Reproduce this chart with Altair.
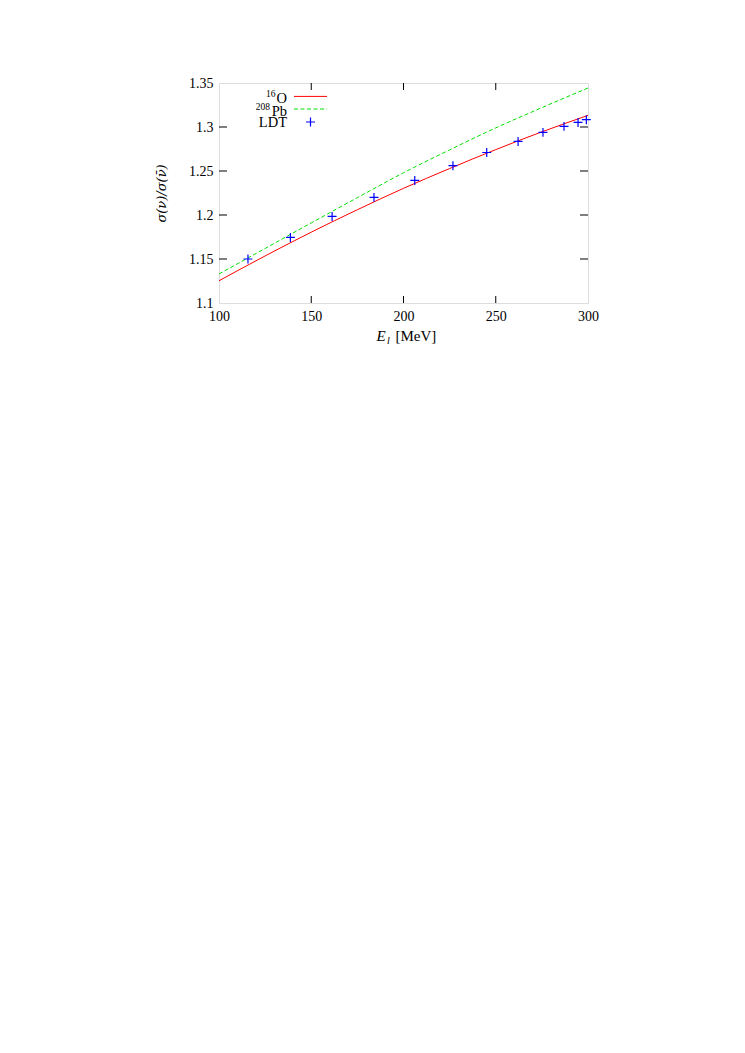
import altair as alt
import pandas as pd

# ---- data ----
energy = [100, 125, 150, 175, 200, 225, 250, 275, 300]
ratio_O16 = [1.1253, 1.1535, 1.1805, 1.2060, 1.2303, 1.2528, 1.2743, 1.2945, 1.3132]
ratio_Pb208 = [1.133, 1.162, 1.191, 1.2197, 1.248, 1.274, 1.299, 1.322, 1.3443]

ldt_energy = [115.7, 138.7, 161.3, 184.0, 206.1, 226.8, 245.1, 262.1, 275.6, 287.0, 294.6, 299.1]
ldt_ratio = [1.150, 1.1745, 1.1984, 1.220, 1.2393, 1.256, 1.271, 1.2836, 1.2939, 1.3007, 1.3052, 1.3083]

x_tick_values = [100, 150, 200, 250, 300]
y_tick_values = [1.1, 1.15, 1.2, 1.25, 1.3, 1.35]
x_inner_ticks = [150, 200, 250]
y_inner_ticks = [1.15, 1.2, 1.25, 1.3]

legend_base = ["O", "Pb", "LDT"]
legend_sup = ["16", "208", ""]

FONT = "Liberation Serif"
W, H = 369, 220
RED = "#ff0000"
GREEN = "#00e000"
BLUE = "#0000ff"
PLUS = "M-1,0H1M0,-1V1"

xs = alt.Scale(domain=[100, 300], nice=False, zero=False)
ys = alt.Scale(domain=[1.1, 1.35], nice=False, zero=False)

df_O = pd.DataFrame({"E": energy, "r": ratio_O16})
df_Pb = pd.DataFrame({"E": energy, "r": ratio_Pb208})
df_ldt = pd.DataFrame({"E": ldt_energy, "r": ldt_ratio})
df_xt = pd.DataFrame({"v": x_inner_ticks})
df_yt = pd.DataFrame({"v": y_inner_ticks})

x_axis = alt.Axis(values=x_tick_values, ticks=False, domain=False, grid=False,
                  labelFont=FONT, labelFontSize=14, labelColor="black",
                  labelPadding=6, title=None, labelFlush=False)
y_axis = alt.Axis(values=y_tick_values, ticks=False, domain=False, grid=False,
                  labelFont=FONT, labelFontSize=14, labelColor="black",
                  labelPadding=6, format=".2~f", labelFlush=False,
                  title="σ(ν)/σ(ν̄)", titleFont="DejaVu Serif", titleFontSize=13,
                  titleFontStyle="italic", titleFontWeight="normal",
                  titleColor="black", titleX=-58, titleY=H / 2,
                  titleAngle=-90, titleAlign="center", titleBaseline="middle")

line_O = alt.Chart(df_O).mark_line(color=RED, strokeWidth=1, interpolate="monotone").encode(
    x=alt.X("E:Q", scale=xs, axis=x_axis),
    y=alt.Y("r:Q", scale=ys, axis=y_axis),
)
line_Pb = alt.Chart(df_Pb).mark_line(color=GREEN, strokeWidth=1, strokeDash=[4, 2.5],
                                     interpolate="monotone").encode(
    x=alt.X("E:Q", scale=xs), y=alt.Y("r:Q", scale=ys))
pts = alt.Chart(df_ldt).mark_point(shape=PLUS, size=80, color=BLUE, filled=False,
                                   strokeWidth=1.2, opacity=1).encode(
    x=alt.X("E:Q", scale=xs), y=alt.Y("r:Q", scale=ys))

# inward mirrored ticks
tick_b = alt.Chart(df_xt).mark_rule(color="black", strokeWidth=1).encode(
    x=alt.X("v:Q", scale=xs), y=alt.value(H), y2=alt.value(H - 7))
tick_t = alt.Chart(df_xt).mark_rule(color="black", strokeWidth=1).encode(
    x=alt.X("v:Q", scale=xs), y=alt.value(0), y2=alt.value(7))
tick_l = alt.Chart(df_yt).mark_rule(color="black", strokeWidth=1).encode(
    y=alt.Y("v:Q", scale=ys), x=alt.value(0), x2=alt.value(8))
tick_r = alt.Chart(df_yt).mark_rule(color="black", strokeWidth=1).encode(
    y=alt.Y("v:Q", scale=ys), x=alt.value(W), x2=alt.value(W - 8))

# x-axis title built from pieces (italic E with subscript l)
xt_E = alt.Chart(pd.DataFrame({"t": ["E"]})).mark_text(
    font=FONT, fontSize=15, fontStyle="italic", align="left",
    baseline="alphabetic", color="black").encode(
    text="t:N", x=alt.value(157.5), y=alt.value(258))
xt_l = alt.Chart(pd.DataFrame({"t": ["l"]})).mark_text(
    font=FONT, fontSize=10, fontStyle="italic", align="left",
    baseline="alphabetic", color="black").encode(
    text="t:N", x=alt.value(168), y=alt.value(261))
xt_M = alt.Chart(pd.DataFrame({"t": ["[MeV]"]})).mark_text(
    font=FONT, fontSize=15, align="left", baseline="alphabetic", color="black").encode(
    text="t:N", x=alt.value(176.5), y=alt.value(258))

# legend (gnuplot style: right-aligned text, then sample)
leg_layers = []
base_y = [20, 33, 44]
sup_y = [13.5, 26.5, 0]
sup_x = [56.5, 51, 0]
sample_y = [13.4, 26, 39]
for i in range(3):
    leg_layers.append(
        alt.Chart(pd.DataFrame({"t": [legend_base[i]]})).mark_text(
            font=FONT, fontSize=14.5, align="right", baseline="alphabetic", color="black"
        ).encode(text="t:N", x=alt.value(68), y=alt.value(base_y[i])))
    if legend_sup[i]:
        leg_layers.append(
            alt.Chart(pd.DataFrame({"t": [legend_sup[i]]})).mark_text(
                font=FONT, fontSize=9.5, align="right", baseline="alphabetic", color="black"
            ).encode(text="t:N", x=alt.value(sup_x[i]), y=alt.value(sup_y[i])))

leg_O = alt.Chart(pd.DataFrame({"s": ["O"]})).mark_rule(color=RED, strokeWidth=1).encode(
    x=alt.value(75), x2=alt.value(108), y=alt.value(sample_y[0]))
leg_Pb = alt.Chart(pd.DataFrame({"s": ["Pb"]})).mark_rule(
    color=GREEN, strokeWidth=1, strokeDash=[4, 2.5]).encode(
    x=alt.value(75), x2=alt.value(108), y=alt.value(sample_y[1]))
leg_L = alt.Chart(pd.DataFrame({"s": ["LDT"]})).mark_point(
    shape=PLUS, size=80, color=BLUE, filled=False, strokeWidth=1.2, opacity=1).encode(
    x=alt.value(91.5), y=alt.value(sample_y[2]))

chart = alt.layer(
    line_O, line_Pb, pts, tick_b, tick_t, tick_l, tick_r,
    xt_E, xt_l, xt_M, leg_O, leg_Pb, leg_L, *leg_layers
).properties(
    width=W, height=H,
    autosize=alt.AutoSizeParams(type="none"),
    padding={"left": 211, "top": 75, "right": 20, "bottom": 80},
).configure_view(
    stroke="black", strokeWidth=1.2
).configure(background="white")

chart.save("out.html", embed_options={"renderer": "svg", "actions": False})
